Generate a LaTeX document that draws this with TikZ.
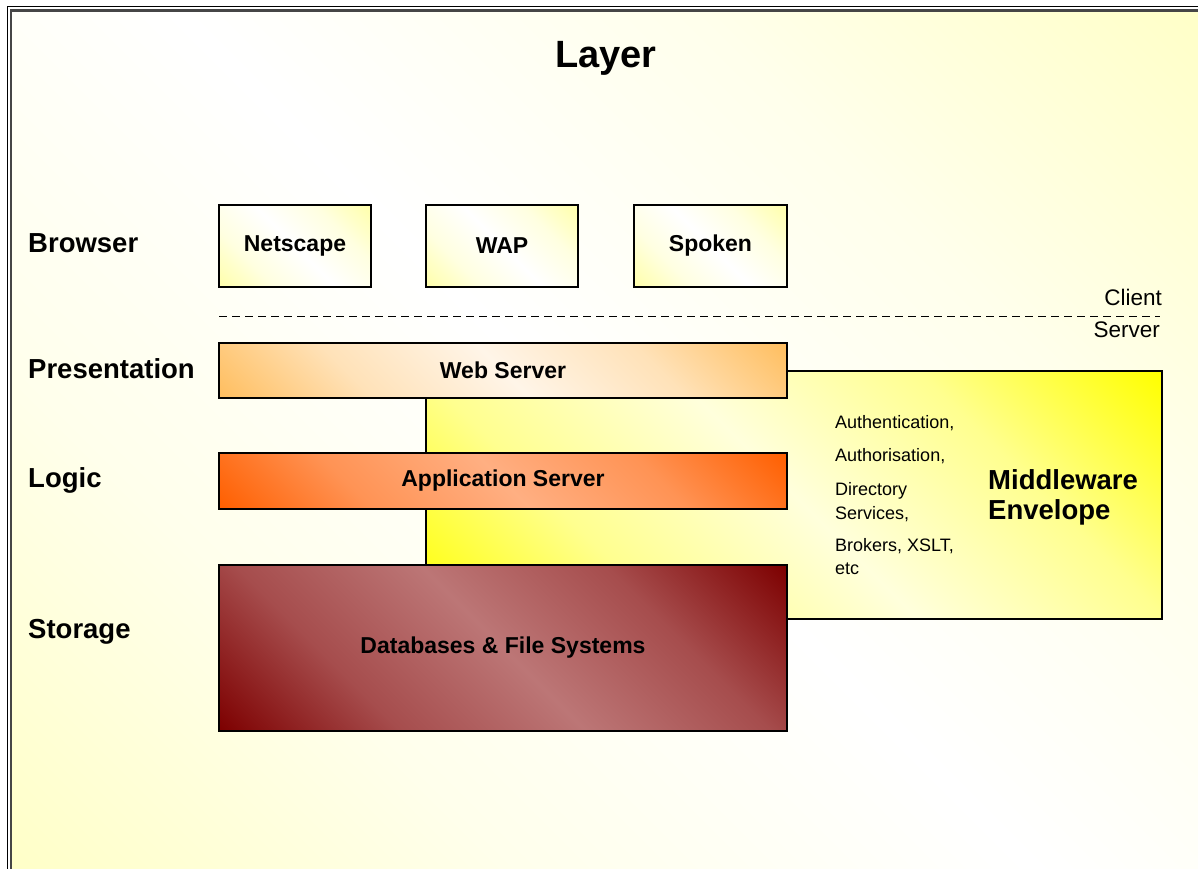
\documentclass[tikz,border=0pt]{standalone}
\usepackage{fontspec}
\setmainfont{Liberation Sans}
\definecolor{bgY}{RGB}{255,255,200}
\definecolor{brY}{RGB}{255,255,170}
\definecolor{wsC}{RGB}{255,190,95}
\definecolor{wsM}{RGB}{255,245,232}
\definecolor{asC}{RGB}{255,95,0}
\definecolor{asM}{RGB}{255,175,130}
\definecolor{dbC}{RGB}{125,0,0}
\definecolor{dbM}{RGB}{188,118,118}
\definecolor{envC}{RGB}{255,255,0}
\definecolor{envM}{RGB}{255,255,220}
\definecolor{frameG}{RGB}{70,70,70}
\colorlet{dgC}{white}
\colorlet{dgM}{white}
\pgfdeclareverticalshading[dgC,dgM]{dgshade}{100bp}{%
  color(0bp)=(dgC); color(14.6bp)=(dgC); color(32bp)=(dgC!35!dgM);
  color(50bp)=(dgM); color(68bp)=(dgC!35!dgM);
  color(85.4bp)=(dgC); color(100bp)=(dgC)}
\begin{document}
\begin{tikzpicture}[x=1pt,y=-1pt,
  diag/.style 2 args={/utils/exec={\colorlet{dgC}{#1}\colorlet{dgM}{#2}},shading=dgshade,shading angle=-45},
  box/.style={draw=black,line width=1.3pt,inner sep=0pt,font=\fontsize{23}{27}\selectfont\bfseries},
  lay/.style={anchor=west,inner sep=0pt,font=\fontsize{27.5}{31}\selectfont\bfseries},
  small/.style={anchor=west,inner sep=0pt,font=\fontsize{18}{21}\selectfont},
  cs/.style={anchor=east,inner sep=0pt,font=\fontsize{22.5}{26}\selectfont}]
\useasboundingbox (0,0) rectangle (1198,869);
\fill[white] (0,0) rectangle (1198,869);
\path[diag={bgY}{white}] (12,11) rectangle (1198,869);
% frame
\draw[black,line width=1.6pt] (7.5,869) -- (7.5,6.5) -- (1198,6.5);
\draw[frameG,line width=2.4pt] (11,869) -- (11,10.5) -- (1198,10.5);
% title
\node[inner sep=0pt,font=\fontsize{38}{44}\selectfont\bfseries] (title) at (606,58) {Layer};
% layer labels
\node[lay] (lbrowser) at (28,243) {Browser};
\node[lay] (lpres) at (28,369) {Presentation};
\node[lay] (llogic) at (28,480) {Logic};
\node[lay] (lstore) at (28,632) {Storage};
% browser boxes
\node[box,diag={brY}{white},minimum width=152,minimum height=82] (ns) at (295,246) {Netscape};
\node[box,diag={brY}{white},minimum width=152,minimum height=82] (wap) at (502,246) {WAP};
\node[box,diag={brY}{white},minimum width=153,minimum height=82] (sp) at (710.5,246) {Spoken};
% client / server divider
\coordinate (dl) at (219,316);
\coordinate (dr) at (1160,316);
\draw[black,line width=1pt,dash pattern=on 8pt off 5pt] (dl) -- (dr);
\node[cs] (client) at (1162,297) {Client};
\node[cs] (server) at (1160,330) {Server};
% middleware envelope
\node[draw=black,line width=1.3pt,diag={envC}{envM},minimum width=736,minimum height=248,inner sep=0pt] (env) at (794,495) {};
% server layers
\node[box,diag={wsC}{wsM},minimum width=568,minimum height=55] (ws) at (503,370.5) {Web Server};
\node[box,diag={asC}{asM},minimum width=568,minimum height=56] (as) at (503,481) {Application Server};
\node[box,diag={dbC}{dbM},minimum width=568,minimum height=166] (db) at (503,648) {Databases \& File Systems};
% envelope texts
\node[small] (t1) at (835,423) {Authentication,};
\node[small] (t2) at (835,456) {Authorisation,};
\node[small] (t3) at (835,491) {Directory};
\node[small] (t4) at (835,514) {Services,};
\node[small] (t5) at (835,546) {Brokers, XSLT,};
\node[small] (t6) at (835,569) {etc};
\node[lay] (mw1) at (988,480) {Middleware};
\node[lay] (mw2) at (988,512) {Envelope};
\end{tikzpicture}
\end{document}
